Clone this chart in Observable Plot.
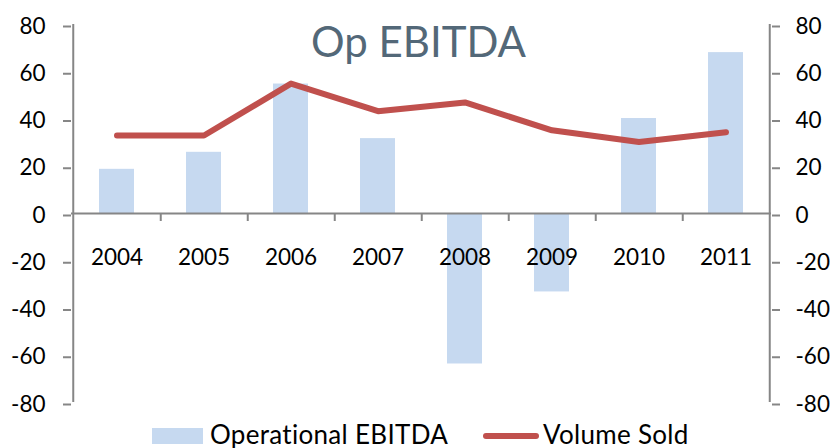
<!DOCTYPE html>
<html>
<head>
<meta charset="utf-8">
<script src="https://cdn.jsdelivr.net/npm/d3@7"></script>
<script src="https://cdn.jsdelivr.net/npm/@observablehq/plot@0.6"></script>
<style>
  html, body { margin: 0; padding: 0; background: #fff; }
  #wrap { position: relative; width: 836px; height: 448px; overflow: hidden; font-family: Lato, "Open Sans", sans-serif; }
  #chart svg { display: block; }
  .lg { position: absolute; }
  .lgtext { position: absolute; font-size: 26px; line-height: 26px; letter-spacing: 0.3px; color: #000; white-space: nowrap; }
</style>
</head>
<body>
<div id="wrap">
  <div id="chart"></div>
  <div class="lg" style="left:152px;top:428px;width:51px;height:16px;background:#c6d9f0;"></div>
  <div class="lgtext" style="left:210px;top:421px;">Operational EBITDA</div>
  <div class="lg" style="left:483px;top:433px;width:56px;height:6px;border-radius:3px;background:#c0504d;"></div>
  <div class="lgtext" style="left:543px;top:421px;">Volume Sold</div>
</div>
<script>
const years = ["2004", "2005", "2006", "2007", "2008", "2009", "2010", "2011"];
const ebitda = [18.7, 25.9, 54.8, 31.7, -63.7, -33.2, 40.2, 68.1];
const volume = [33, 33, 55, 43.3, 47, 35.2, 30.3, 34.4];
const yTicks = [-80, -60, -40, -20, 0, 20, 40, 60, 80];
const title = "Op EBITDA";

const data = years.map((y, i) => ({year: y, ebitda: ebitda[i], volume: volume[i]}));

const W = 836, H = 420, mL = 71, mR = 65, mT = 24, mB = 18;
const step = (W - mL - mR) / years.length;
const axisColor = "#868686";

const chart = Plot.plot({
  width: W,
  height: H,
  marginLeft: mL,
  marginRight: mR,
  marginTop: mT,
  marginBottom: mB,
  style: {fontFamily: "Lato, 'Open Sans', sans-serif", background: "#fff"},
  x: {type: "band", domain: years, paddingInner: 0.6, paddingOuter: 0.3, axis: null},
  y: {domain: [yTicks[0], yTicks[yTicks.length - 1]], axis: null},
  marks: [
    Plot.barY(data, {x: "year", y: "ebitda", fill: "#c6d9f0"}),
    Plot.ruleY([0], {stroke: axisColor, strokeWidth: 2}),
    Plot.ruleX(years.slice(0, -1), {x: d => d, dx: step / 2, y1: 0, y2: 0, insetBottom: -8, stroke: axisColor, strokeWidth: 2}),
    Plot.ruleX([years[0]], {x: d => d, dx: -step / 2, stroke: axisColor, strokeWidth: 2}),
    Plot.ruleX([years[years.length - 1]], {x: d => d, dx: step / 2, stroke: axisColor, strokeWidth: 2}),
    Plot.axisY({anchor: "left", ticks: yTicks, tickFormat: d => String(d), tickSize: 8, tickPadding: 18, fontSize: 22.5, stroke: axisColor, color: "#000", strokeWidth: 2, label: null, dy: 2}),
    Plot.axisY({anchor: "right", ticks: yTicks, tickFormat: d => String(d), tickSize: 8, tickPadding: 16, fontSize: 22.5, stroke: axisColor, color: "#000", strokeWidth: 2, label: null, dy: 2}),
    Plot.text(years, {x: d => d, y: 0, dy: 44, fontSize: 22.5, fill: "#000"}),
    Plot.line(data, {x: "year", y: "volume", stroke: "#c0504d", strokeWidth: 6, strokeLinecap: "round", strokeLinejoin: "round"}),
    Plot.text([title], {frameAnchor: "top", lineAnchor: "top", dy: 3, dx: -3, fontSize: 42, fill: "#536878"})
  ]
});
document.getElementById("chart").appendChild(chart);
</script>
</body>
</html>
